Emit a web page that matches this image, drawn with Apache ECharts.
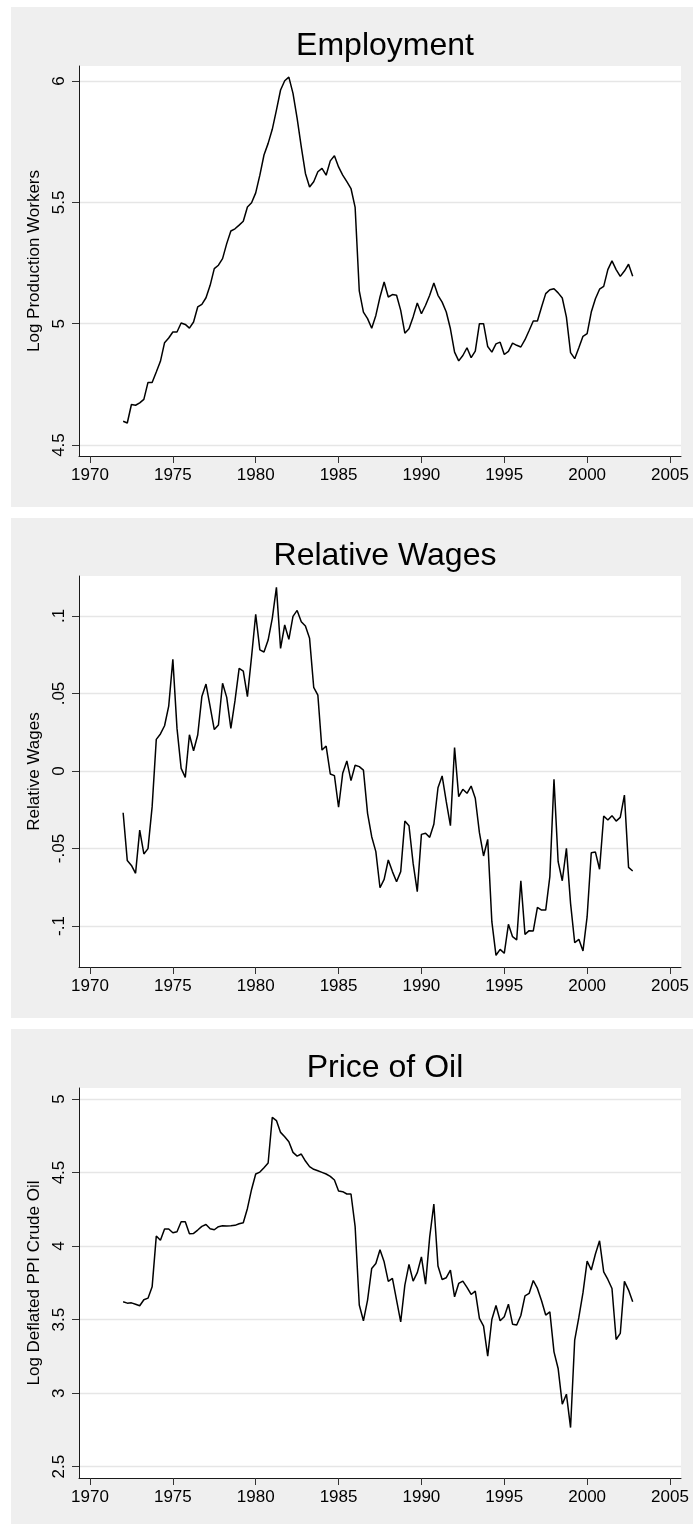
<!DOCTYPE html>
<html>
<head>
<meta charset="utf-8">
<script src="https://cdn.jsdelivr.net/npm/echarts@6/dist/echarts.min.js"></script>
<style>
html, body { margin: 0; padding: 0; background: #fff; }
#main { width: 693px; height: 1524px; }
</style>
</head>
<body>
<div id="main"></div>
<script>
// quarterly data, 1972q1 - 2002q4
const startYear = 1972;

const employment = [
  4.598, 4.591, 4.667, 4.664, 4.674, 4.688, 4.758, 4.758, 4.801, 4.845,
  4.922, 4.941, 4.966, 4.966, 5.003, 4.997, 4.982, 5.007, 5.069, 5.080,
  5.107, 5.158, 5.227, 5.241, 5.268, 5.330, 5.382, 5.391, 5.406, 5.422,
  5.481, 5.498, 5.539, 5.612, 5.695, 5.743, 5.801, 5.880, 5.963, 6.001,
  6.016, 5.949, 5.846, 5.729, 5.619, 5.563, 5.585, 5.626, 5.640, 5.612,
  5.671, 5.692, 5.646, 5.612, 5.585, 5.557, 5.479, 5.135, 5.048, 5.021,
  4.981, 5.034, 5.110, 5.172, 5.110, 5.120, 5.117, 5.055, 4.961, 4.979,
  5.028, 5.085, 5.041, 5.076, 5.117, 5.168, 5.117, 5.089, 5.048, 4.979,
  4.883, 4.847, 4.869, 4.901, 4.860, 4.887, 5.000, 5.000, 4.906, 4.883,
  4.917, 4.924, 4.873, 4.886, 4.920, 4.911, 4.904, 4.934, 4.972, 5.011,
  5.011, 5.069, 5.124, 5.140, 5.144, 5.127, 5.106, 5.027, 4.881, 4.856,
  4.901, 4.948, 4.959, 5.048, 5.103, 5.142, 5.154, 5.223, 5.259, 5.223,
  5.195, 5.217, 5.245, 5.196
];

const relWages = [
  -0.0269, -0.0578, -0.0609, -0.0660, -0.0381, -0.0535, -0.0501, -0.0230, 0.0204, 0.0239,
  0.0292, 0.0419, 0.0720, 0.0275, 0.0017, -0.0041, 0.0234, 0.0131, 0.0232, 0.0480,
  0.0561, 0.0415, 0.0267, 0.0297, 0.0566, 0.0475, 0.0275, 0.0454, 0.0662, 0.0645,
  0.0480, 0.0738, 0.1011, 0.0781, 0.0768, 0.0845, 0.0985, 0.1185, 0.0791, 0.0942,
  0.0849, 0.0998, 0.1036, 0.0963, 0.0935, 0.0856, 0.0540, 0.0490, 0.0135, 0.0161,
  -0.0019, -0.0030, -0.0234, -0.0015, 0.0065, -0.0062, 0.0037, 0.0028, 0.0006, -0.0273,
  -0.0424, -0.0520, -0.0753, -0.0699, -0.0574, -0.0649, -0.0714, -0.0649, -0.0323, -0.0353,
  -0.0596, -0.0778, -0.0409, -0.0402, -0.0428, -0.0344, -0.0108, -0.0032, -0.0198, -0.0353,
  0.0151, -0.0166, -0.0118, -0.0144, -0.0097, -0.0176, -0.0398, -0.0548, -0.0441, -0.0972,
  -0.1189, -0.1151, -0.1176, -0.0989, -0.1069, -0.1090, -0.0708, -0.1054, -0.1030, -0.1032,
  -0.0880, -0.0897, -0.0897, -0.0682, -0.0054, -0.0585, -0.0708, -0.0499, -0.0854, -0.1108,
  -0.1086, -0.1161, -0.0940, -0.0527, -0.0523, -0.0634, -0.0290, -0.0316, -0.0288, -0.0323,
  -0.0299, -0.0155, -0.0622, -0.0645
];

const oilPrice = [
  3.621, 3.612, 3.614, 3.605, 3.594, 3.635, 3.646, 3.723, 4.068, 4.039,
  4.116, 4.116, 4.091, 4.098, 4.166, 4.166, 4.084, 4.086, 4.109, 4.134,
  4.147, 4.118, 4.111, 4.132, 4.138, 4.136, 4.138, 4.141, 4.152, 4.159,
  4.256, 4.385, 4.490, 4.503, 4.533, 4.565, 4.875, 4.853, 4.773, 4.744,
  4.710, 4.637, 4.612, 4.626, 4.578, 4.540, 4.522, 4.512, 4.501, 4.490,
  4.474, 4.449, 4.374, 4.370, 4.354, 4.354, 4.132, 3.599, 3.492, 3.633,
  3.848, 3.882, 3.975, 3.893, 3.760, 3.780, 3.633, 3.485, 3.735, 3.875,
  3.762, 3.819, 3.927, 3.741, 4.063, 4.286, 3.864, 3.773, 3.785, 3.837,
  3.655, 3.746, 3.762, 3.719, 3.671, 3.694, 3.508, 3.456, 3.252, 3.501,
  3.596, 3.492, 3.519, 3.605, 3.469, 3.463, 3.528, 3.662, 3.678, 3.766,
  3.712, 3.628, 3.531, 3.553, 3.281, 3.168, 2.925, 2.993, 2.766, 3.361,
  3.515, 3.683, 3.898, 3.837, 3.946, 4.036, 3.825, 3.773, 3.712, 3.365,
  3.406, 3.760, 3.701, 3.621
];

const yearTicks = [1970, 1975, 1980, 1985, 1990, 1995, 2000, 2005];
const empTicks = [4.5, 5, 5.5, 6];
const wageTicks = [-0.1, -0.05, 0, 0.05, 0.1];
const oilTicks = [2.5, 3, 3.5, 4, 4.5, 5];

const titles = ['Employment', 'Relative Wages', 'Price of Oil'];
const yNames = ['Log Production Workers', 'Relative Wages', 'Log Deflated PPI Crude Oil'];

const FONT = '"Liberation Sans", Arial, Helvetica, sans-serif';

function toPairs(values) {
  return values.map((v, i) => [startYear + i / 4, v]);
}

// panel boxes (page pixels)
const panels = [
  { bgTop: 7,    bgH: 500, top: 66,   h: 390, ymin: 4.4549,  ymax: 6.0618,  ticks: empTicks,  data: employment },
  { bgTop: 518,  bgH: 500, top: 576,  h: 391, ymin: -0.12645, ymax: 0.12581, ticks: wageTicks, data: relWages },
  { bgTop: 1029, bgH: 495, top: 1088, h: 390, ymin: 2.4232,  ymax: 5.0748,  ticks: oilTicks,  data: oilPrice }
];

const plotLeft = 79;
const plotW = 602;
const xMin = 1970 - 11 / 16.571;
const xMax = xMin + plotW / 16.571;

const chart = echarts.init(document.getElementById('main'), null, { renderer: 'canvas' });

const graphics = [];
panels.forEach(p => {
  graphics.push({ type: 'rect', z: -100, shape: { x: 11, y: p.bgTop, width: 682, height: p.bgH }, style: { fill: '#efefef' }, silent: true });
  graphics.push({ type: 'rect', z: -99, shape: { x: plotLeft, y: p.top, width: plotW, height: p.h }, style: { fill: '#ffffff' }, silent: true });
});

// stata style: .05, -.1, 0
const fmtNum = v => {
  const s = String(+(+v).toFixed(3));
  return s.replace(/^(-?)0\./, '$1.');
};

const option = {
  backgroundColor: '#ffffff',
  animation: false,
  textStyle: { fontFamily: FONT },
  graphic: { elements: graphics },
  title: panels.map((p, k) => ({
    text: titles[k],
    left: plotLeft + plotW / 2,
    top: p.top - 41,
    textAlign: 'center',
    textStyle: { fontFamily: FONT, fontSize: 32, fontWeight: 'normal', color: '#000' }
  })),
  grid: panels.map(p => ({
    left: plotLeft, top: p.top, width: plotW, height: p.h,
    show: false, containLabel: false
  })),
  xAxis: panels.map((p, k) => ({
    type: 'value',
    gridIndex: k,
    min: xMin,
    max: xMax,
    axisLine: { show: true, onZero: false, lineStyle: { color: '#1a1a1a', width: 1 } },
    axisTick: { show: true, length: 7, customValues: yearTicks, lineStyle: { color: '#333' } },
    axisLabel: {
      customValues: yearTicks, margin: 11, fontSize: 17, color: '#000', fontFamily: FONT,
      formatter: v => String(Math.round(v))
    },
    splitLine: { show: false }
  })),
  yAxis: panels.map((p, k) => ({
    type: 'value',
    gridIndex: k,
    min: p.ymin,
    max: p.ymax,
    name: yNames[k],
    nameLocation: 'middle',
    nameGap: 34,
    nameTextStyle: { fontFamily: FONT, fontSize: 17, color: '#000' },
    axisLine: { show: true, onZero: false, lineStyle: { color: '#1a1a1a', width: 1 } },
    axisTick: { show: true, length: 7, customValues: p.ticks, lineStyle: { color: '#333' } },
    axisLabel: {
      customValues: p.ticks, rotate: 90, margin: 11, fontSize: 17, color: '#000', fontFamily: FONT,
      formatter: fmtNum
    },
    splitLine: { show: true, lineStyle: { color: '#e6e6e6', width: 1.3 } }
  })),
  series: panels.map((p, k) => ({
    type: 'line',
    xAxisIndex: k,
    yAxisIndex: k,
    data: toPairs(p.data),
    showSymbol: false,
    symbol: 'none',
    lineStyle: { color: '#000', width: 1.5 },
    z: 5
  }))
};

chart.setOption(option);
</script>
</body>
</html>
